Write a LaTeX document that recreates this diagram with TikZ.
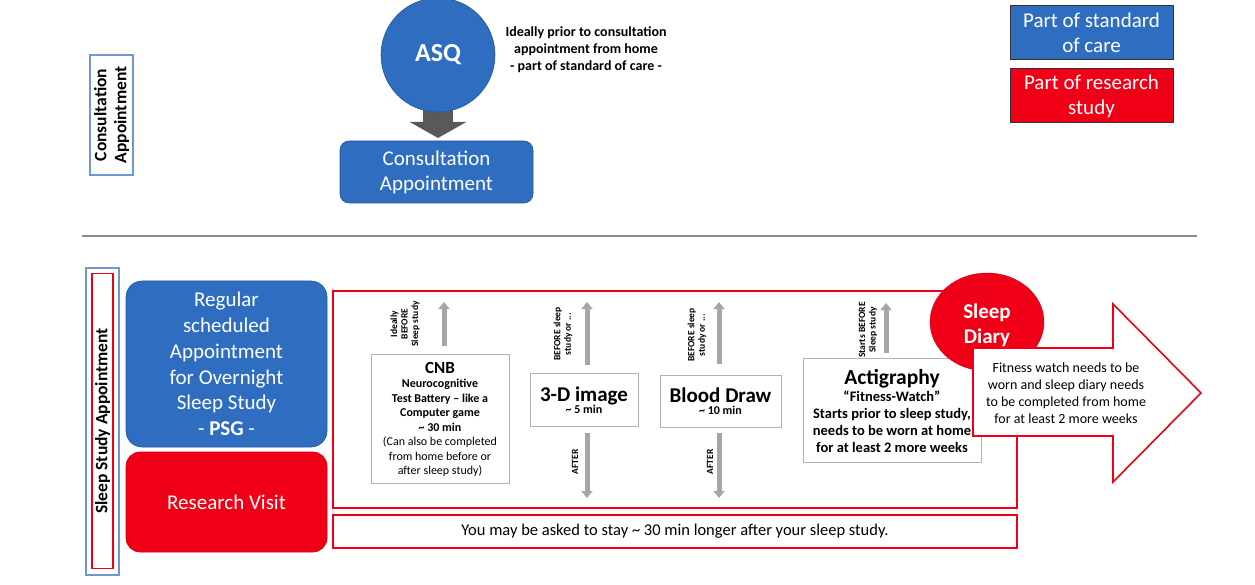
\documentclass[tikz,border=0pt]{standalone}
\usepackage{fontspec}
\setmainfont{Carlito}
\usetikzlibrary{arrows.meta,shapes.geometric}
\definecolor{cblue}{RGB}{46,109,192}
\definecolor{cred}{RGB}{240,0,22}
\definecolor{cgrey}{RGB}{166,166,166}
\definecolor{cdark}{RGB}{89,89,89}
\newcommand{\fs}[2]{\fontsize{#1}{#2}\selectfont}
\begin{document}
\begin{tikzpicture}[x=1pt,y=-1pt,
  bluebox/.style={fill=cblue,draw=cblue!80!black,line width=0.6pt,rounded corners=9pt,text=white,align=center,inner sep=0pt},
  redbox/.style={fill=cred,draw=cred!85!black,line width=0.6pt,rounded corners=14pt,text=white,align=center,inner sep=0pt},
  legbox/.style={draw=black!80,line width=1pt,text=white,align=center,inner sep=0pt,minimum width=163pt,minimum height=54pt,font=\fs{21}{25}},
  greybox/.style={draw=black!30,line width=0.8pt,fill=white,align=center,inner sep=0pt},
  redframe/.style={draw=cred,line width=2.2pt},
  uparrow/.style={draw=cgrey,line width=5pt,-{Triangle[width=11pt,length=7pt]}},
  rlabel/.style={rotate=90,align=center,font=\bfseries\fs{9.5}{10.5},inner sep=0pt},
]
\useasboundingbox (0,0) rectangle (1255,585);
% Consultation label
\node[draw=cblue!70!white,line width=1.5pt,minimum width=43pt,minimum height=120pt,inner sep=0pt] (clab) at (111.5,115) {};
\node[rotate=90,align=center,font=\bfseries\fs{17.5}{20}] at (clab) {Consultation\\Appointment};
% block arrow
\coordinate (ba1) at (438,106);
\coordinate (ba2) at (438,138);
\draw[cdark,line width=30pt,-{Triangle[width=56pt,length=16pt]}] (ba1) -- (ba2);
% ASQ
\node[circle,fill=cblue,draw=cblue!80!black,line width=0.6pt,minimum size=114pt,inner sep=0pt,text=white,font=\bfseries\fs{26}{30}] (asq) at (438,55) {ASQ};
\node[align=center,inner sep=0pt,font=\bfseries\fs{14}{17}] (asqt) at (586,50) {Ideally prior to consultation\\appointment from home\\- part of standard of care -};
\node[bluebox,minimum width=193pt,minimum height=62pt,font=\fs{21}{25}] (cons) at (436.5,172) {Consultation\\Appointment};
% legend
\node[legbox,fill=cblue] (leg1) at (1091.5,33) {Part of standard\\of care};
\node[legbox,fill=cred] (leg2) at (1091.5,96) {Part of research\\study};
% separator
\coordinate (s1) at (82,236);
\coordinate (s2) at (1197,236);
\draw[black!45,line width=1.5pt] (s1) -- (s2);
% Sleep study label
\node[draw=cblue!70!white,line width=1.5pt,minimum width=33pt,minimum height=307pt,inner sep=0pt] (slab) at (102.5,421.5) {};
\node[draw=cred,line width=1.5pt,minimum width=21pt,minimum height=295pt,inner sep=0pt] (slab2) at (102.5,421) {};
\node[rotate=90,font=\bfseries\fs{17.5}{20}] at (slab2) {Sleep Study Appointment};
% left boxes
\node[bluebox,rounded corners=16pt,minimum width=201pt,minimum height=166pt,font=\fs{21}{25.8}] (psg) at (226.5,364) {Regular\\scheduled\\Appointment\\for Overnight\\Sleep Study\\- \textbf{PSG} -};
\node[redbox,minimum width=201pt,minimum height=100pt,font=\fs{21}{25}] (rv) at (226.5,502) {Research Visit};
% red frames
\node[redframe,minimum width=684pt,minimum height=217pt,inner sep=0pt] (frame) at (675,399.5) {};
\node[redframe,minimum width=684pt,minimum height=33pt,inner sep=0pt,font=\fs{16.5}{18}] (stay) at (675,531.5) {You may be asked to stay \char`\~{} 30 min longer after your sleep study.};
% CNB
\node[greybox,minimum width=138pt,minimum height=129pt] (cnb) at (440,418.5) {};
\node[align=center,inner sep=0pt,font=\fs{12}{14.5}] at (440,419.5) {{\bfseries\fs{17}{18}CNB}\\\textbf{Neurocognitive}\\\textbf{Test Battery – like a}\\\textbf{Computer game}\\\textbf{\char`\~{} 30 min}\\(Can also be completed\\from home before or\\after sleep study)};
\coordinate (cnbu) at (444,302);
\draw[uparrow] (444,346) -- (cnbu);
\node[rlabel] at (405,324) {Ideally\\BEFORE\\Sleep study};
% 3-D image
\node[greybox,minimum width=108pt,minimum height=53pt] (img) at (584,399.5) {};
\node[align=center,inner sep=0pt] at (584,400) {{\bfseries\fs{21}{22}3-D image}\\{\bfseries\fs{12}{14}\char`\~{} 5 min}};
\coordinate (imgu) at (587,302);
\coordinate (imgd) at (587,498);
\draw[uparrow] (587,365) -- (imgu);
\draw[uparrow] (587,433) -- (imgd);
\node[rlabel] at (563,334) {BEFORE sleep\\study or ...};
\node[rlabel] at (575,462) {AFTER};
% Blood draw
\node[greybox,minimum width=121pt,minimum height=52pt] (bd) at (720.5,401) {};
\node[align=center,inner sep=0pt] at (720.5,401.5) {{\bfseries\fs{21}{22}Blood Draw}\\{\bfseries\fs{12}{14}\char`\~{} 10 min}};
\coordinate (bdu) at (719,302);
\coordinate (bdd) at (719,498);
\draw[uparrow] (719,364) -- (bdu);
\draw[uparrow] (719,433) -- (bdd);
\node[rlabel] at (697,335) {BEFORE sleep\\study or ...};
\node[rlabel] at (710,462) {AFTER};
% Actigraphy
\node[greybox,minimum width=178pt,minimum height=104pt] (act) at (892,410) {};
\node[align=center,inner sep=0pt,font=\bfseries\fs{14.5}{17}] at (892,411) {{\fs{21.5}{22}Actigraphy}\\“Fitness-Watch”\\Starts prior to sleep study,\\needs to be worn at home\\for at least 2 more weeks};
\coordinate (actu) at (886,303);
\draw[uparrow] (886,353) -- (actu);
\node[rlabel] at (868,330) {Starts BEFORE\\Sleep study};
% Sleep diary
\node[ellipse,fill=cred,draw=cred!85!black,minimum width=114pt,minimum height=98pt,inner sep=0pt,text=white] (sd) at (987,322) {};
\node[align=center,text=white,font=\bfseries\fs{21}{25}] at (987,325) {Sleep\\Diary};
% big arrow
\coordinate (tip) at (1201,393);
\draw[draw=cred,line width=1.6pt,fill=white,line join=miter] (973,348) -- (1113,348) -- (1113,304) -- (tip) -- (1113,482) -- (1113,436) -- (973,436) -- cycle;
\node[align=center,inner sep=0pt,font=\fs{14}{17}] (fw) at (1066,393) {Fitness watch needs to be\\worn and sleep diary needs\\to be completed from home\\for at least 2 more weeks};
\end{tikzpicture}
\end{document}
